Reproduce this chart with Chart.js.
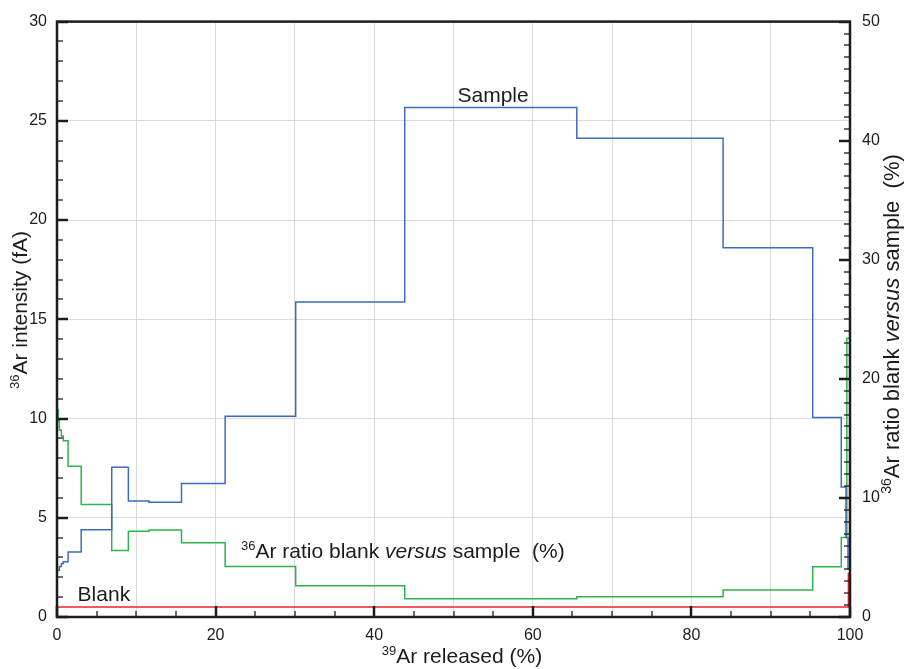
<!DOCTYPE html>
<html>
<head>
<meta charset="utf-8">
<script src="https://cdn.jsdelivr.net/npm/chart.js@4/dist/chart.umd.min.js"></script>
<style>
  html, body { margin: 0; padding: 0; background: #fff; }
  #wrap { width: 907px; height: 669px; }
</style>
</head>
<body>
<div id="wrap"><canvas id="release-chart"></canvas></div>
<script>
// 36Ar sample signal (fA) per heating step, edges in % 39Ar released
const SAMPLE_EDGES = [0, 0.3, 0.55, 0.8, 1.4, 3.05, 6.9, 9.0, 11.6, 15.7, 21.2, 30.1, 43.85, 65.55, 84.0, 95.3, 98.9, 99.5, 99.75, 100];
const SAMPLE_FA = [2.35, 2.55, 2.7, 2.78, 3.28, 4.4, 7.55, 5.85, 5.78, 6.73, 10.12, 15.87, 25.67, 24.12, 18.6, 10.05, 6.55, 4.0, 2.4];

// blank / sample ratio (%), right axis
const RATIO_EDGES = [0, 0.15, 0.3, 0.55, 0.8, 1.4, 3.05, 6.9, 9.0, 11.6, 15.7, 21.2, 30.1, 43.85, 65.55, 84.0, 95.3, 98.9, 99.6, 100];
const RATIO_PCT = [17.4, 16.5, 15.7, 15.2, 14.8, 12.67, 9.45, 5.58, 7.2, 7.31, 6.23, 4.24, 2.62, 1.53, 1.70, 2.26, 4.21, 6.67, 23.4];

// blank level (fA)
const BLANK_EDGES = [0, 99.8, 100];
const BLANK_FA = [0.5, 2.2];

const X_TICKS = [0, 20, 40, 60, 80, 100];
const FONT = '"Liberation Sans", Arial, Helvetica, sans-serif';
const INK = '#1c1c1c';

// step series -> points for a stepped line (last value carried to the final edge)
function stepPoints(edges, values) {
  const pts = values.map((v, i) => ({ x: edges[i], y: v }));
  pts.push({ x: edges[edges.length - 1], y: values[values.length - 1] });
  return pts;
}

// text runs with superscripts / italics, drawn left to right from (x, y)
function fontFor(p, size) {
  const s = p.sup ? Math.round(size * 0.62) : size;
  return (p.it ? 'italic ' : '') + s + 'px ' + FONT;
}
function richWidth(ctx, parts, size) {
  let w = 0;
  parts.forEach(p => {
    ctx.font = fontFor(p, size);
    w += ctx.measureText(p.t).width;
  });
  return w;
}
function drawRich(ctx, parts, x, y, size, align) {
  let cx = align === 'center' ? x - richWidth(ctx, parts, size) / 2 : x;
  ctx.textBaseline = 'alphabetic';
  ctx.textAlign = 'left';
  parts.forEach(p => {
    ctx.font = fontFor(p, size);
    ctx.fillText(p.t, cx, p.sup ? y - size * 0.38 : y);
    cx += ctx.measureText(p.t).width;
  });
}

const X_TITLE = [{ t: '39', sup: true }, { t: 'Ar released (%)' }];
const Y_TITLE = [{ t: '36', sup: true }, { t: 'Ar intensity (fA)' }];
const Y2_TITLE = [{ t: '36', sup: true }, { t: 'Ar ratio blank ' }, { t: 'versus', it: true }, { t: ' sample  (%)' }];
const RATIO_LABEL = [{ t: '36', sup: true }, { t: 'Ar ratio blank ' }, { t: 'versus', it: true }, { t: ' sample  (%)' }];

const frameAndLabels = {
  id: 'frameAndLabels',
  afterDatasetsDraw(chart) {
    const { ctx, chartArea: a, scales } = chart;
    ctx.save();
    ctx.strokeStyle = INK;
    ctx.lineCap = 'butt';

    // inward tick marks
    for (let v = 0; v <= 100; v += 5) {
      const px = Math.round(scales.x.getPixelForValue(v));
      const major = v % 20 === 0;
      ctx.lineWidth = major ? 2.5 : 1.3;
      ctx.beginPath();
      ctx.moveTo(px, a.bottom);
      ctx.lineTo(px, a.bottom - (major ? 11 : 6));
      ctx.stroke();
    }
    for (let v = 0; v <= 30; v += 1) {
      const py = Math.round(scales.y.getPixelForValue(v));
      const major = v % 5 === 0;
      ctx.lineWidth = major ? 2.5 : 1.3;
      ctx.beginPath();
      ctx.moveTo(a.left, py);
      ctx.lineTo(a.left + (major ? 11 : 6), py);
      ctx.stroke();
    }
    for (let v = 0; v <= 50; v += 1) {
      const py = Math.round(scales.y2.getPixelForValue(v));
      const major = v % 10 === 0;
      ctx.lineWidth = major ? 2.5 : 1.3;
      ctx.beginPath();
      ctx.moveTo(a.right, py);
      ctx.lineTo(a.right - (major ? 11 : 6), py);
      ctx.stroke();
    }

    // plot frame
    ctx.lineWidth = 2.5;
    ctx.strokeRect(a.left, a.top, a.right - a.left, a.bottom - a.top);

    // in-plot labels
    ctx.fillStyle = INK;
    drawRich(ctx, [{ t: 'Sample' }], scales.x.getPixelForValue(50.5), scales.y.getPixelForValue(25.95), 21, 'left');
    drawRich(ctx, [{ t: 'Blank' }], scales.x.getPixelForValue(2.6), scales.y.getPixelForValue(0.8), 21, 'left');
    drawRich(ctx, RATIO_LABEL, scales.x.getPixelForValue(23.2), scales.y.getPixelForValue(2.96), 21, 'left');

    // axis titles
    drawRich(ctx, X_TITLE, 462, 663, 21, 'center');
    ctx.save();
    ctx.translate(27, 310);
    ctx.rotate(-Math.PI / 2);
    drawRich(ctx, Y_TITLE, 0, 0, 21, 'center');
    ctx.restore();
    ctx.save();
    ctx.translate(899, 324);
    ctx.rotate(-Math.PI / 2);
    drawRich(ctx, Y2_TITLE, 0, 0, 22, 'center');
    ctx.restore();

    ctx.restore();
  }
};

const lineStyle = { pointRadius: 0, borderWidth: 1.5, stepped: true, fill: false, tension: 0 };

new Chart(document.getElementById('release-chart'), {
  type: 'line',
  data: {
    datasets: [
      { label: 'Blank', data: stepPoints(BLANK_EDGES, BLANK_FA), borderColor: '#e8262b', yAxisID: 'y', ...lineStyle },
      { label: 'Sample', data: stepPoints(SAMPLE_EDGES, SAMPLE_FA), borderColor: '#3c6cbf', yAxisID: 'y', ...lineStyle },
      { label: 'Ratio', data: stepPoints(RATIO_EDGES, RATIO_PCT), borderColor: '#2fb34c', yAxisID: 'y2', ...lineStyle },
    ],
  },
  options: {
    responsive: true,
    maintainAspectRatio: false,
    animation: false,
    layout: { padding: { top: 20, left: 0, right: 0, bottom: 0 } },
    plugins: { legend: { display: false }, tooltip: { enabled: false } },
    scales: {
      x: {
        type: 'linear',
        min: 0,
        max: 100,
        afterFit: s => { s.height = 52; },
        border: { display: false },
        grid: { color: '#dadada', lineWidth: 1, drawTicks: false },
        ticks: {
          stepSize: 10,
          autoSkip: false,
          maxRotation: 0,
          padding: 9,
          color: INK,
          font: { family: FONT, size: 16 },
          callback: v => (X_TICKS.includes(v) ? v : ''),
        },
      },
      y: {
        position: 'left',
        min: 0,
        max: 30,
        afterFit: s => { s.width = 57; },
        border: { display: false },
        grid: { color: '#dadada', lineWidth: 1, drawTicks: false },
        ticks: { stepSize: 5, padding: 10, color: INK, font: { family: FONT, size: 16 } },
      },
      y2: {
        position: 'right',
        min: 0,
        max: 50,
        afterFit: s => { s.width = 57; },
        border: { display: false },
        grid: { display: false, drawTicks: false },
        ticks: { stepSize: 10, padding: 12, color: INK, font: { family: FONT, size: 16 } },
      },
    },
  },
  plugins: [frameAndLabels],
});
</script>
</body>
</html>
